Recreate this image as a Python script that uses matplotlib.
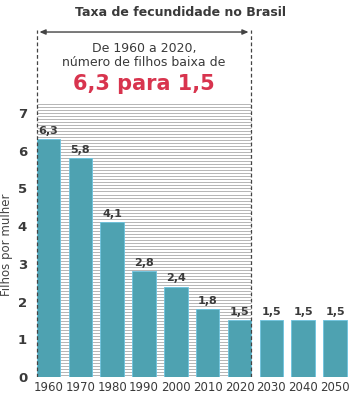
import numpy as np
import matplotlib.pyplot as plt

# Fertility rate in Brazil (children per woman)
years = ["1960", "1970", "1980", "1990", "2000", "2010", "2020", "2030", "2040", "2050"]
values = [6.3, 5.8, 4.1, 2.8, 2.4, 1.8, 1.5, 1.5, 1.5, 1.5]
value_labels = ["6,3", "5,8", "4,1", "2,8", "2,4", "1,8", "1,5", "1,5", "1,5", "1,5"]
y_ticks = [0, 1, 2, 3, 4, 5, 6, 7]

bar_color = "#4ea2b1"
text_color = "#3a3a3a"
width = 0.74

fig = plt.figure(figsize=(3.61, 3.97), dpi=100)
ax = fig.add_axes([0.083, 0.0504, 0.9, 0.887])

x = np.arange(len(years))
left_edge = -width / 2
right_edge = 6 + width / 2

# striped background behind the 1960-2020 period
for yy in np.arange(0.04, 7.3, 0.08):
    ax.hlines(yy, left_edge, right_edge, color="#aaaaaa", lw=0.6, zorder=0)

ax.bar(x, values, width=width, color=bar_color, edgecolor="#6cc4e0",
       linewidth=0.6, zorder=2)

for xi, v, lab in zip(x, values, value_labels):
    ax.text(xi, v + 0.08, lab, ha="center", va="bottom", fontsize=8,
            fontweight="bold", color=text_color, zorder=3)

# dashed bounds and arrow
for xe in (left_edge, right_edge):
    ax.vlines(xe, 0, 9.2, color="#444444", lw=0.9, linestyles=(0, (3, 2)), zorder=3)
ax.annotate("", xy=(left_edge, 9.15), xytext=(right_edge, 9.15),
            arrowprops=dict(arrowstyle="<|-|>,head_length=0.35,head_width=0.15",
                            color="#444444", lw=1.0))

mid = (left_edge + right_edge) / 2
ax.text(mid, 8.72, "De 1960 a 2020,", ha="center", va="center", fontsize=9,
        color=text_color)
ax.text(mid, 8.33, "número de filhos baixa de", ha="center", va="center",
        fontsize=9, color=text_color)
ax.text(mid, 7.76, "6,3 para 1,5", ha="center", va="center", fontsize=15,
        fontweight="bold", color="#d8344e")

fig.text(0.5, 0.968, "Taxa de fecundidade no Brasil", ha="center", va="center",
         fontsize=9, fontweight="bold", color=text_color)

ax.set_xlim(-0.58, 9.62)
ax.set_ylim(0, 9.34)
ax.set_xticks(x)
ax.set_xticklabels(years, fontsize=8.5, color=text_color)
ax.set_yticks(y_ticks)
ax.set_yticklabels([str(t) for t in y_ticks], fontsize=9.5, fontweight="bold",
                   color=text_color)
ax.tick_params(length=0, pad=3)
ax.tick_params(axis="y", pad=2)
ax.set_ylabel("Filhos por mulher", fontsize=8.5, color="#444444")
ax.yaxis.set_label_coords(-0.052, 0.375)
for s in ax.spines.values():
    s.set_visible(False)

fig.savefig("out.png", dpi=100)
